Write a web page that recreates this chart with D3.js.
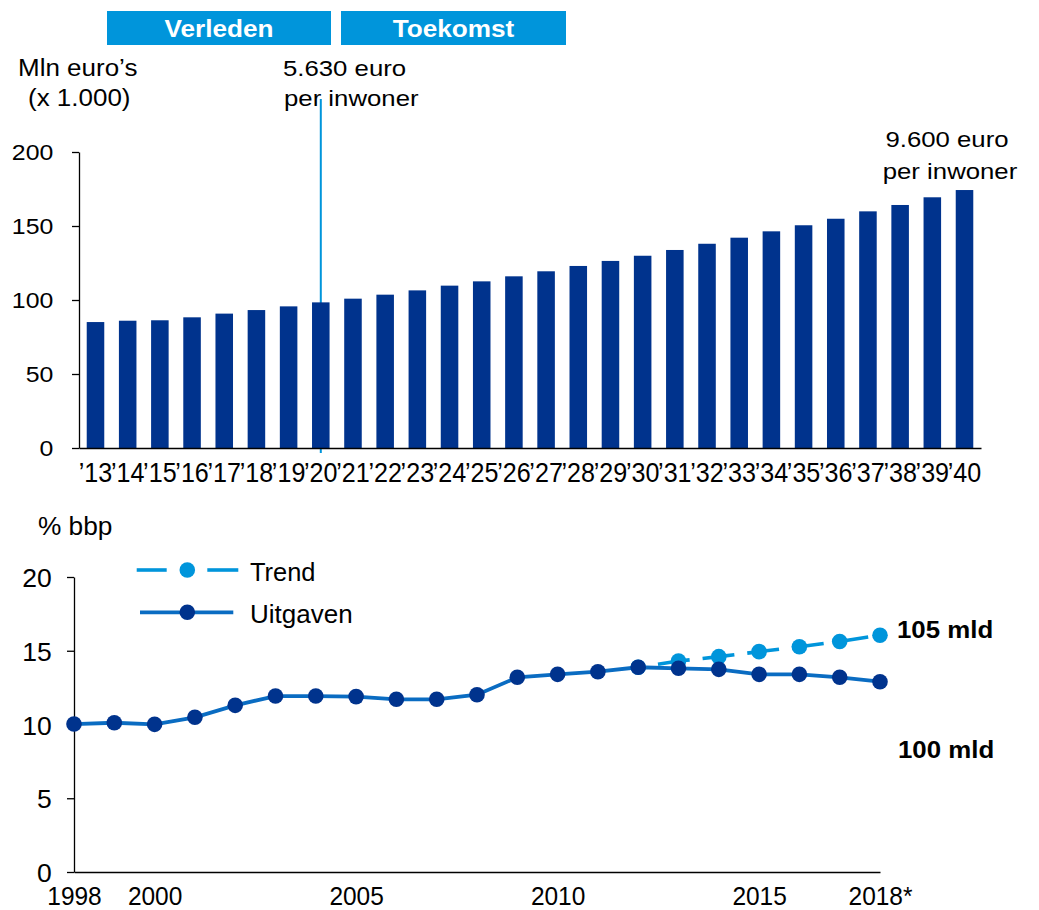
<!DOCTYPE html>
<html>
<head>
<meta charset="utf-8">
<script src="https://cdn.jsdelivr.net/npm/d3@7"></script>
<style>
  body { margin: 0; background: #fff; }
  svg { font-family: "Liberation Sans", Arial, sans-serif; }
</style>
</head>
<body>
<div class="chart"></div>
<script>
// bar chart data (mln euro x 1.000)
const barYears = ["’13","’14","’15","’16","’17","’18","’19","’20","’21","’22","’23","’24","’25","’26",
                  "’27","’28","’29","’30","’31","’32","’33","’34","’35","’36","’37","’38","’39","’40"];
const barValues = [85.1, 86.0, 86.3, 88.3, 90.8, 93.2, 95.7, 98.4, 100.9, 103.6, 106.5, 109.7, 112.6, 116.0,
                   119.4, 123.0, 126.4, 129.9, 133.8, 138.0, 142.1, 146.4, 150.5, 154.9, 159.9, 164.2, 169.4, 174.3];
const barTicks = [0, 50, 100, 150, 200];
const splitYear = "’20";

// line chart data (% bbp)
const lineYears = [1998, 1999, 2000, 2001, 2002, 2003, 2004, 2005, 2006, 2007, 2008,
                   2009, 2010, 2011, 2012, 2013, 2014, 2015, 2016, 2017, 2018];
const uitgaven = [10.03, 10.12, 10.01, 10.49, 11.3, 11.93, 11.93, 11.89, 11.71, 11.71, 12.02,
                  13.2, 13.4, 13.58, 13.88, 13.81, 13.74, 13.4, 13.4, 13.2, 12.9];
const trendYears = [2012, 2013, 2014, 2015, 2016, 2017, 2018];
const trendValues = [13.88, 14.3, 14.6, 14.94, 15.27, 15.63, 16.05];
const lineTicks = [0, 5, 10, 15, 20];
const xTickYears = [1998, 2000, 2005, 2010, 2015, 2018];
const xTickLabels = ["1998", "2000", "2005", "2010", "2015", "2018*"];

const navy = "#00338d";
const lightBlue = "#0095db";
const midBlue = "#0a6cc2";

const svg = d3.select(".chart").append("svg")
    .attr("width", 1039)
    .attr("height", 910);

// text with a horizontal stretch, like the source picture
function label(sel, x, y, str, o = {}) {
    return sel.append("text")
        .attr("transform", `translate(${x},${y}) scale(${o.sx || 1},1)`)
        .attr("text-anchor", o.anchor || "start")
        .attr("fill", o.fill || "#000")
        .style("font-size", (o.size || 23) + "px")
        .style("font-weight", o.bold ? "bold" : null)
        .text(str);
}

// ---------- top: bars ----------
const xBar = d3.scaleBand()
    .domain(barYears)
    .range([79, 981])
    .paddingInner(0.455)
    .paddingOuter(0.24);

const yBar = d3.scaleLinear()
    .domain([0, 200])
    .range([448, 152]);

// header boxes
const heads = [["Verleden", 107, 331], ["Toekomst", 341, 566]];
heads.forEach(([t, x0, x1]) => {
    svg.append("rect")
        .attr("x", x0).attr("y", 11)
        .attr("width", x1 - x0).attr("height", 34)
        .attr("fill", lightBlue);
    label(svg, (x0 + x1) / 2, 37, t, {size: 24, sx: 1.09, bold: true, anchor: "middle", fill: "#fff"});
});

label(svg, 18, 76, "Mln euro’s", {sx: 1.13});
label(svg, 28, 106, "(x 1.000)", {sx: 1.13});
label(svg, 283, 76, "5.630 euro", {sx: 1.12});
label(svg, 284, 106, "per inwoner", {sx: 1.12});
label(svg, 947, 147, "9.600 euro", {sx: 1.12, anchor: "middle"});
label(svg, 950, 179, "per inwoner", {sx: 1.12, anchor: "middle"});

// split line between past and future
const splitX = xBar(splitYear) + xBar.bandwidth() / 2;
svg.append("line")
    .attr("x1", splitX).attr("x2", splitX)
    .attr("y1", 99).attr("y2", 453)
    .attr("stroke", lightBlue)
    .attr("stroke-width", 2);

svg.append("g")
    .selectAll("rect")
    .data(barValues)
    .join("rect")
    .attr("x", (d, i) => xBar(barYears[i]))
    .attr("y", d => yBar(d))
    .attr("width", xBar.bandwidth())
    .attr("height", d => yBar(0) - yBar(d))
    .attr("fill", navy);

svg.append("g")
    .attr("transform", "translate(79,0)")
    .call(d3.axisLeft(yBar).tickValues(barTicks).tickSize(7).tickSizeOuter(0))
    .call(g => g.selectAll("path,line").attr("stroke", "#000").attr("stroke-width", 1.3))
    .call(g => g.selectAll("text")
        .attr("x", null).attr("dy", null)
        .attr("transform", "translate(-25.7,7.7) scale(1.13,1)")
        .attr("fill", "#000")
        .style("font-size", "22px"));

svg.append("g")
    .attr("transform", "translate(0,448)")
    .call(d3.axisBottom(xBar).tickSize(0).tickSizeOuter(0))
    .call(g => g.select(".domain").attr("stroke", "#000").attr("stroke-width", 1.3))
    .call(g => g.selectAll("text")
        .attr("y", null).attr("dy", null)
        .attr("transform", "translate(0,34) scale(0.93,1)")
        .attr("fill", "#000")
        .style("font-size", "27px"));

// ---------- bottom: lines ----------
const xLine = d3.scaleLinear()
    .domain([1998, 2018])
    .range([74, 880]);

const yLine = d3.scaleLinear()
    .domain([0, 20])
    .range([872, 577]);

label(svg, 38, 535, "% bbp", {size: 25, sx: 1.05});

svg.append("g")
    .attr("transform", "translate(74,0)")
    .call(d3.axisLeft(yLine).tickValues(lineTicks).tickSize(7).tickSizeOuter(0))
    .call(g => g.selectAll("path,line").attr("stroke", "#000").attr("stroke-width", 1.3))
    .call(g => g.selectAll("text")
        .attr("x", null).attr("dy", null)
        .attr("transform", "translate(-22.3,9.5)")
        .attr("fill", "#000")
        .style("font-size", "26.5px"));

svg.append("g")
    .attr("transform", "translate(0,872)")
    .call(d3.axisBottom(xLine).tickValues(xTickYears).tickFormat((d, i) => xTickLabels[i])
        .tickSize(0).tickSizeOuter(0))
    .call(g => g.select(".domain").attr("stroke", "#000").attr("stroke-width", 1.3))
    .call(g => g.selectAll("text")
        .attr("y", null).attr("dy", null)
        .attr("transform", "translate(0,32.5) scale(0.96,1)")
        .attr("fill", "#000")
        .style("font-size", "25.5px"));

const trendLine = d3.line()
    .x((d, i) => xLine(trendYears[i]))
    .y(d => yLine(d));

svg.append("path")
    .datum(trendValues)
    .attr("d", trendLine)
    .attr("fill", "none")
    .attr("stroke", lightBlue)
    .attr("stroke-width", 3.6)
    .attr("stroke-dasharray", "32 13")
    .attr("stroke-dashoffset", 25);

svg.append("g")
    .selectAll("circle")
    .data(trendValues)
    .join("circle")
    .attr("cx", (d, i) => xLine(trendYears[i]))
    .attr("cy", d => yLine(d))
    .attr("r", 7.8)
    .attr("fill", lightBlue);

const uitLine = d3.line()
    .x((d, i) => xLine(lineYears[i]))
    .y(d => yLine(d));

svg.append("path")
    .datum(uitgaven)
    .attr("d", uitLine)
    .attr("fill", "none")
    .attr("stroke", midBlue)
    .attr("stroke-width", 3.8);

svg.append("g")
    .selectAll("circle")
    .data(uitgaven)
    .join("circle")
    .attr("cx", (d, i) => xLine(lineYears[i]))
    .attr("cy", d => yLine(d))
    .attr("r", 7.8)
    .attr("fill", navy);

// legend
const lg = svg.append("g");
[[136.7, 166.7], [207.3, 238.3]].forEach(([a, b]) => {
    lg.append("line").attr("x1", a).attr("x2", b).attr("y1", 570).attr("y2", 570)
        .attr("stroke", lightBlue).attr("stroke-width", 3.6);
});
lg.append("circle").attr("cx", 187.3).attr("cy", 570).attr("r", 7.8).attr("fill", lightBlue);
label(lg, 250, 581, "Trend", {size: 26.5, sx: 0.96});

lg.append("line").attr("x1", 140).attr("x2", 233.3).attr("y1", 612.3).attr("y2", 612.3)
    .attr("stroke", midBlue).attr("stroke-width", 3.8);
lg.append("circle").attr("cx", 187.3).attr("cy", 612.3).attr("r", 7.8).attr("fill", navy);
label(lg, 250, 623, "Uitgaven", {size: 26, sx: 1});

label(svg, 897, 638, "105 mld", {size: 23.5, sx: 1.1, bold: true});
label(svg, 898, 758, "100 mld", {size: 23.5, sx: 1.1, bold: true});
</script>
</body>
</html>
